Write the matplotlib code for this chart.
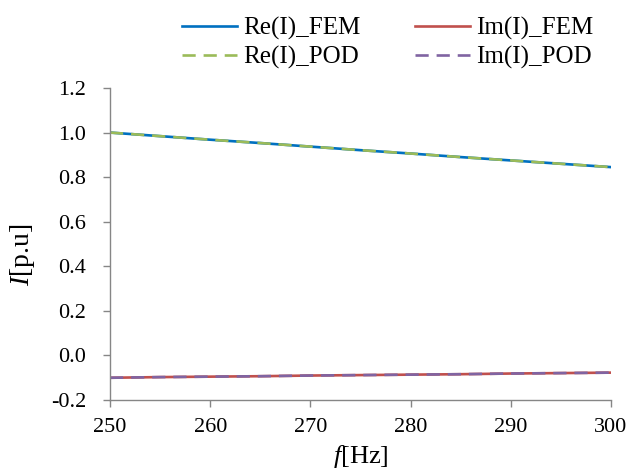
import numpy as np
import matplotlib
matplotlib.use("Agg")
import matplotlib.pyplot as plt

plt.rcParams['font.family'] = ['Liberation Serif', 'DejaVu Serif']
plt.rcParams['mathtext.fontset'] = 'custom'
plt.rcParams['mathtext.rm'] = 'Liberation Serif'
plt.rcParams['mathtext.it'] = 'Liberation Serif:italic'
plt.rcParams['axes.unicode_minus'] = False

# data
freq = [250, 255, 260, 265, 270, 275, 280, 285, 290, 295, 300]
re_fem = [1.000, 0.984, 0.968, 0.953, 0.937, 0.921, 0.906, 0.890, 0.875, 0.860, 0.845]
im_fem = [-0.100, -0.097, -0.095, -0.093, -0.090, -0.088, -0.086, -0.084, -0.081, -0.079, -0.077]
re_pod = [1.000, 0.984, 0.968, 0.953, 0.937, 0.921, 0.906, 0.890, 0.875, 0.860, 0.845]
im_pod = [-0.100, -0.097, -0.095, -0.093, -0.090, -0.088, -0.086, -0.084, -0.081, -0.079, -0.077]

fig = plt.figure(figsize=(6.38, 4.69), dpi=100)
ax = fig.add_axes([0.1724, 0.147, 0.7853, 0.6654])

lw = 1.9
ax.plot(freq, re_fem, color='#0070C0', lw=lw, label='Re(I)_FEM')
ax.plot(freq, im_fem, color='#C0504D', lw=lw, label='Im(I)_FEM')
ax.plot(freq, re_pod, color='#9BBB59', lw=lw, dashes=(5, 3), label='Re(I)_POD')
ax.plot(freq, im_pod, color='#8064A2', lw=lw, dashes=(5, 3), label='Im(I)_POD')

ax.set_xlim(250, 300)
ax.set_ylim(-0.2, 1.2)
ax.set_xticks(np.arange(250, 301, 10))
ax.set_yticks(np.arange(-0.2, 1.21, 0.2))
ax.yaxis.set_major_formatter(plt.FuncFormatter(lambda v, p: '%.1f' % v))

for s in ['top', 'right']:
    ax.spines[s].set_visible(False)
for s in ['left', 'bottom']:
    ax.spines[s].set_color('#868686')
    ax.spines[s].set_linewidth(1.0)
ax.tick_params(colors='#868686', labelcolor='black', labelsize=16, length=5, width=1.0)
ax.tick_params(axis='x', pad=8)
ax.tick_params(axis='y', pad=12)

ax.set_xlabel(r'$f$[Hz]', fontsize=19, labelpad=4)
ax.set_ylabel(r'$I$[p.u]', fontsize=20)
ax.yaxis.set_label_coords(-0.146, 0.465)

h, l = ax.get_legend_handles_labels()
order = [0, 2, 1, 3]
leg = fig.legend([h[i] for i in order], [l[i] for i in order], ncol=2,
                 loc='upper left', bbox_to_anchor=(182 / 638, 1 - 17 / 469), frameon=False,
                 fontsize=18, handlelength=2.2, handletextpad=0.24,
                 columnspacing=2.2, labelspacing=0.22, borderpad=0, borderaxespad=0)

plt.savefig('out.png', dpi=100)
